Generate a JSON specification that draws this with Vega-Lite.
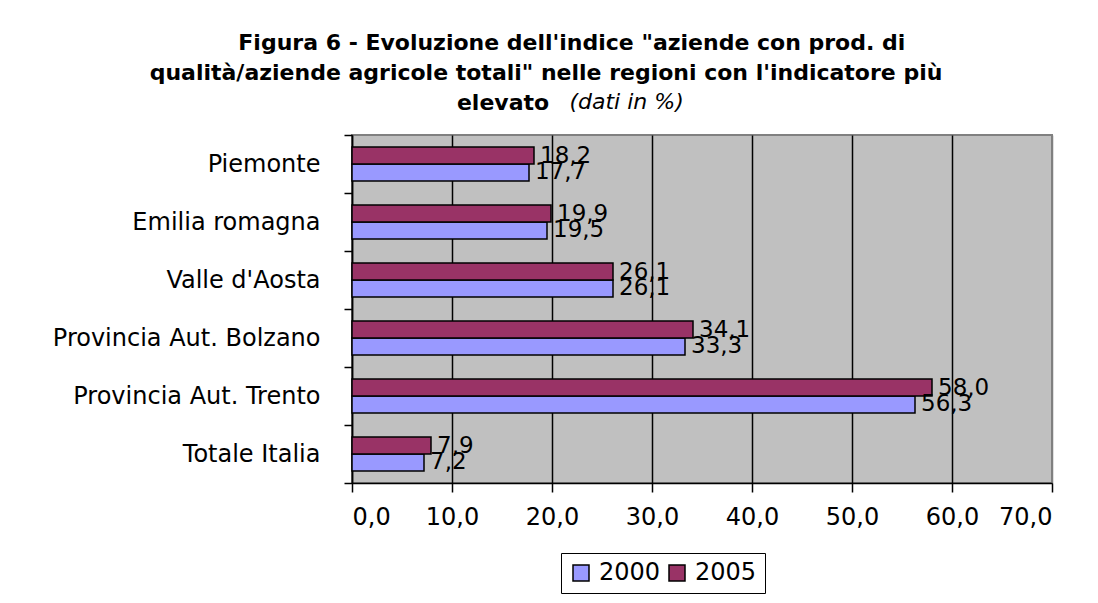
{
  "$schema": "https://vega.github.io/schema/vega-lite/v6.json",
  "width": 700,
  "height": 348,
  "autosize": "none",
  "padding": {"left": 352, "top": 135, "right": 46, "bottom": 120},
  "background": "white",
  "config": {
    "font": "DejaVu Sans",
    "view": {"fill": "#C0C0C0", "stroke": "#808080", "strokeWidth": 2},
    "locale": {"number": {"decimal": ",", "thousands": ".", "grouping": [3], "currency": ["€", ""]}}
  },
  "title": {
    "text": ["\u2800\u2800\u2800Figura 6 - Evoluzione dell'indice \"aziende con prod. di", "qualità/aziende agricole totali\" nelle regioni con l'indicatore più", "elevato\u2800\u2800\u2800\u2800\u2800"],
    "subtitle": "\u2800\u2800\u2800\u2800\u2800\u2800\u2800\u2800\u2800\u2800(dati in %)",
    "font": "DejaVu Sans",
    "fontSize": 22,
    "fontWeight": "bold",
    "color": "black",
    "lineHeight": 30,
    "subtitleFont": "DejaVu Sans",
    "subtitleFontSize": 22,
    "subtitleFontStyle": "italic",
    "subtitleFontWeight": "normal",
    "subtitleColor": "black",
    "subtitleLineHeight": 28,
    "subtitlePadding": -23,
    "anchor": "middle",
    "offset": 8,
    "dx": -156
  },
  "data": {
    "values": [
      {"regione": "Piemonte", "anno": "2000", "valore": 17.7},
      {"regione": "Piemonte", "anno": "2005", "valore": 18.2},
      {"regione": "Emilia romagna", "anno": "2000", "valore": 19.5},
      {"regione": "Emilia romagna", "anno": "2005", "valore": 19.9},
      {"regione": "Valle d'Aosta", "anno": "2000", "valore": 26.1},
      {"regione": "Valle d'Aosta", "anno": "2005", "valore": 26.1},
      {"regione": "Provincia Aut. Bolzano", "anno": "2000", "valore": 33.3},
      {"regione": "Provincia Aut. Bolzano", "anno": "2005", "valore": 34.1},
      {"regione": "Provincia Aut. Trento", "anno": "2000", "valore": 56.3},
      {"regione": "Provincia Aut. Trento", "anno": "2005", "valore": 58.0},
      {"regione": "Totale Italia", "anno": "2000", "valore": 7.2},
      {"regione": "Totale Italia", "anno": "2005", "valore": 7.9}
    ]
  },
  "encoding": {
    "y": {
      "field": "regione",
      "type": "nominal",
      "sort": ["Piemonte", "Emilia romagna", "Valle d'Aosta", "Provincia Aut. Bolzano", "Provincia Aut. Trento", "Totale Italia"],
      "scale": {"paddingInner": 0, "paddingOuter": 0},
      "axis": {
        "title": null,
        "domainColor": "black",
        "domainWidth": 1.5,
        "tickColor": "black",
        "tickWidth": 1.5,
        "tickSize": 8,
        "tickBand": "extent",
        "labelFontSize": 24,
        "labelColor": "black",
        "labelPadding": 24,
        "labelLimit": 500,
        "labelFont": "DejaVu Sans"
      }
    },
    "yOffset": {
      "field": "anno",
      "type": "nominal",
      "scale": {"domain": ["2005", "2000"], "paddingInner": 0, "paddingOuter": 0.706}
    },
    "x": {
      "field": "valore",
      "type": "quantitative",
      "scale": {"domain": [0, 70], "nice": false},
      "axis": {
        "title": null,
        "values": [0, 10, 20, 30, 40, 50, 60, 70],
        "format": ".1f",
        "domainColor": "black",
        "domainWidth": 1.5,
        "tickColor": "black",
        "tickWidth": 1.5,
        "tickSize": 9,
        "grid": true,
        "gridColor": {"condition": {"test": "datum.value >= 70", "value": "#808080"}, "value": "black"},
        "gridWidth": 1.5,
        "gridOpacity": 1,
        "labelFontSize": 24,
        "labelColor": "black",
        "labelPadding": 13,
        "labelFont": "DejaVu Sans"
      }
    }
  },
  "layer": [
    {
      "mark": {"type": "bar", "stroke": "black", "strokeWidth": 1.5},
      "encoding": {
        "color": {
          "field": "anno",
          "type": "nominal",
          "scale": {"domain": ["2000", "2005"], "range": ["#9999FF", "#993366"]},
          "legend": {
            "title": null,
            "orient": "none",
            "direction": "horizontal",
            "legendX": 209,
            "legendY": 418,
            "symbolType": "square",
            "symbolSize": 256,
            "symbolStrokeColor": "black",
            "symbolStrokeWidth": 1.5,
            "symbolOpacity": 1,
            "labelFontSize": 24,
            "labelColor": "black",
            "labelFont": "DejaVu Sans",
            "columnPadding": 4,
            "labelOffset": 6,
            "strokeColor": "black",
            "padding": 8
          }
        }
      }
    },
    {
      "mark": {"type": "text", "align": "left", "baseline": "middle", "dx": 6, "fontSize": 23, "color": "black"},
      "encoding": {
        "text": {"field": "valore", "type": "quantitative", "format": ".1f"}
      }
    }
  ]
}
